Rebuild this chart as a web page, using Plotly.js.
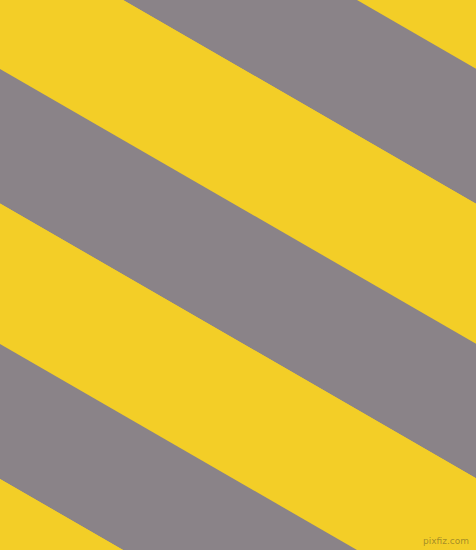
<!DOCTYPE html>
<html>
<head>
<meta charset="utf-8">
<script src="https://cdn.plot.ly/plotly-3.0.1.min.js"></script>
<style>html,body{margin:0;padding:0;background:#F3CE27;}#chart{width:476px;height:550px;}</style>
</head>
<body>
<div id="chart"></div>
<script>
// Stripe boundaries: y-intercepts (at x = 0) of the sloped lines, in pixel units
var bandEdges = [-320, -206, -71, 69, 203.5, 344, 479, 620];
// Colour of the band between consecutive edges
var bandNames = ['yellow', 'gray', 'yellow', 'gray', 'yellow', 'gray', 'yellow'];
var stripeSlope = [0.577];
var palette = {yellow: '#F3CE27', gray: '#8A8388'};
var watermark = ['pixfiz.com'];

var s = stripeSlope[0];
var xa = -20, xb = 496;
var traces = [];
for (var i = 0; i < bandNames.length; i++) {
  var b1 = bandEdges[i], b2 = bandEdges[i + 1];
  traces.push({
    type: 'scatter', mode: 'lines',
    x: [xa, xb, xb, xa, xa],
    y: [b1 + s * xa, b1 + s * xb, b2 + s * xb, b2 + s * xa, b1 + s * xa],
    fill: 'toself', fillcolor: palette[bandNames[i]],
    line: {width: 0, color: palette[bandNames[i]]},
    hoverinfo: 'skip', showlegend: false
  });
}

var layout = {
  width: 476, height: 550,
  margin: {l: 0, r: 0, t: 0, b: 0, pad: 0},
  paper_bgcolor: palette.yellow, plot_bgcolor: palette.yellow,
  xaxis: {range: [0, 476], visible: false, fixedrange: true},
  yaxis: {range: [550, 0], visible: false, fixedrange: true},
  showlegend: false,
  annotations: [{
    text: watermark[0], xref: 'paper', yref: 'paper', x: 0.99, y: 0.004,
    xanchor: 'right', yanchor: 'bottom', showarrow: false,
    font: {family: 'DejaVu Sans', size: 9, color: 'rgba(150,130,40,0.85)'}
  }]
};
Plotly.newPlot('chart', traces, layout, {staticPlot: true, displayModeBar: false});
</script>
</body>
</html>
